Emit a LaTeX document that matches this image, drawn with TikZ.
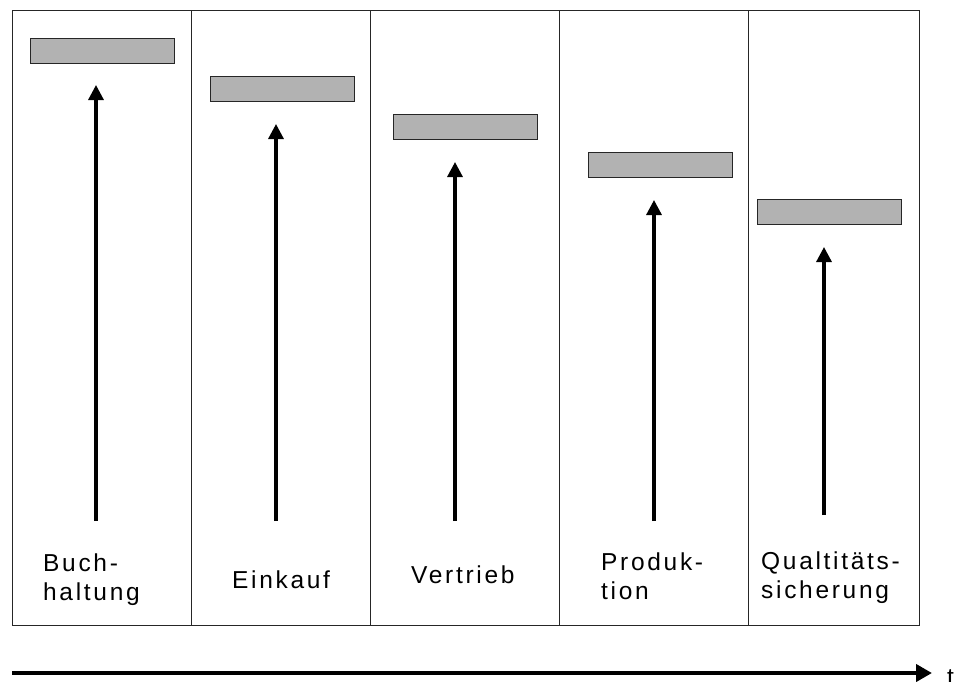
\documentclass[tikz,border=0pt]{standalone}
\usepackage{fontspec}
\usetikzlibrary{arrows.meta}
\newfontfamily\lab[LetterSpace=11]{Liberation Sans}
\begin{document}
\begin{tikzpicture}[x=1pt,y=-1pt,
  frame/.style={draw=black!85,line width=1pt},
  bar/.style={draw=black!85,fill=black!30,line width=1.3pt,minimum width=144pt,minimum height=25pt,inner sep=0pt,anchor=north west},
  uparrow/.style={line width=3.2pt,-{Triangle[length=15pt,width=15pt]}},
  label/.style={font=\lab\fontsize{24.5}{29}\selectfont,align=left,inner sep=0pt,anchor=base west}
]
\useasboundingbox (0,0) rectangle (965,681);
% frame and columns
\draw[frame] (12,10) rectangle (919,625);
\draw[frame] (191,10) -- (191,625);
\draw[frame] (370,10) -- (370,625);
\draw[frame] (559,10) -- (559,625);
\draw[frame] (748,10) -- (748,625);
% bars
\node[bar] (b1) at (30,38) {};
\node[bar] (b2) at (210,76) {};
\node[bar] (b3) at (393,114) {};
\node[bar] (b4) at (588,152) {};
\node[bar] (b5) at (757,199) {};
% arrows
\coordinate (s1) at (96,521);  \coordinate (e1) at (96,85);
\coordinate (s2) at (276,521); \coordinate (e2) at (276,124);
\coordinate (s3) at (455,521); \coordinate (e3) at (455,162);
\coordinate (s4) at (654,521); \coordinate (e4) at (654,200);
\coordinate (s5) at (824,515); \coordinate (e5) at (824,247);
\foreach \i in {1,...,5} \draw[uparrow] (s\i) -- (e\i);
% labels (anchor = baseline of last line)
\node[label] (l1) at (43,600) {Buch-\\haltung};
\node[label] (l2) at (232,588) {Einkauf};
\node[label] (l3) at (411,583) {Vertrieb};
\node[label] (l4) at (601,599) {Produk-\\tion};
\node[label] (l5) at (761,598) {Qualtitäts-\\sicherung};
% time axis
\coordinate (t0) at (12,673);
\coordinate (t1) at (932,673);
\node[font=\lab\fontsize{24.5}{28}\selectfont,inner sep=0pt,anchor=base west] (t) at (947,685) {t};
\draw[line width=4.5pt,-{Triangle[length=16pt,width=17pt]}] (t0) -- (t1);
\end{tikzpicture}
\end{document}
